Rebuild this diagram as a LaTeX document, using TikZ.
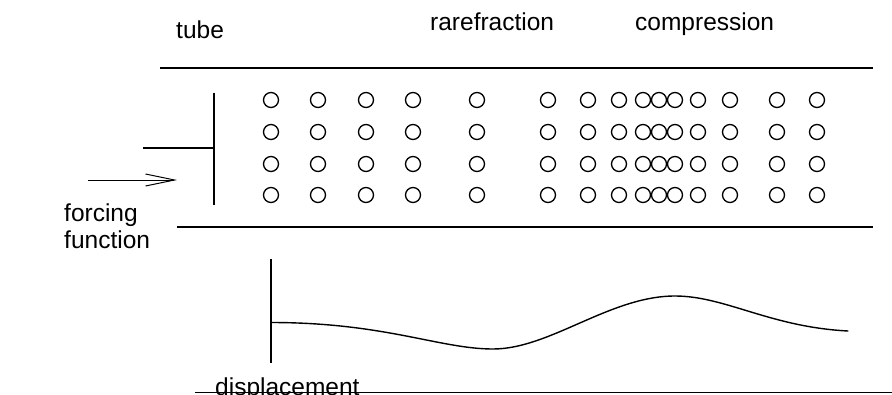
\documentclass[tikz,border=0pt]{standalone}
\usepackage{fontspec}
\setmainfont{Liberation Sans}
\usetikzlibrary{arrows.meta}
\begin{document}
\begin{tikzpicture}[x=1pt,y=-1pt,
  caption/.style={inner sep=0pt, anchor=base west, font=\fontsize{24.5}{27}\selectfont},
  particle/.style={circle, draw, line width=1.3pt, minimum size=15pt, inner sep=0pt},
  wall/.style={line width=1.8pt},
  piston/.style={line width=2.8pt},
  thinline/.style={line width=1.1pt},
  pushes/.style={line width=1pt, -{Straight Barb[length=29pt, width=12pt, line width=1pt]}},
  wave/.style={line width=1.4pt, line cap=round}
]
\useasboundingbox (0,0) rectangle (892,394);

% labels
\node[caption] (tube) at (176,38) {tube};
\node[caption] (rare) at (430,30) {rarefraction};
\node[caption] (comp) at (635,30) {compression};
\node[caption] (forcing) at (64,221) {forcing};
\node[caption] (function) at (64,248) {function};
\node[caption] (disp) at (215,395) {displacement};

% tube walls
\coordinate (tl) at (160,68.3);
\coordinate (tr) at (873,68.3);
\coordinate (bl) at (177,227);
\coordinate (br) at (873,227);
\draw[wall] (tl) -- (tr);
\draw[wall] (bl) -- (br);

% piston and rod
\coordinate (pt) at (214,92.5);
\coordinate (pb) at (214,205);
\coordinate (rodend) at (143,148);
\coordinate (rodjoin) at (214,148);
\draw[piston] (pt) -- (pb);
\draw[piston] (rodend) -- (rodjoin);

% forcing arrow
\coordinate (fa) at (88,180);
\coordinate (fb) at (177,180);
\draw[pushes] (fa) -- (fb);

% air particles
\foreach \x [count=\i] in {271,318,366,413,477,548,588,619,643,659,675,698,730,777,817}
  \foreach \y [count=\j] in {100,132,164,195}
    \node[particle] (p\i-\j) at (\x,\y) {};

% displacement axis and curve
\coordinate (at) at (271,259);
\coordinate (ab) at (271,363);
\coordinate (w0) at (271,322.5);
\coordinate (wmin) at (493,349);
\coordinate (wmax) at (675,296);
\coordinate (wend) at (848,331);
\draw[thinline] (at) -- (ab);
\draw[wave] (w0) .. controls (385,322.5) and (440,349) .. (wmin)
  .. controls (550,349) and (610,296) .. (wmax)
  .. controls (725,296) and (770,327) .. (wend);

% baseline rule
\coordinate (rl) at (195,392.5);
\coordinate (rr) at (892,392.5);
\draw[wall] (rl) -- (rr);
\end{tikzpicture}
\end{document}
